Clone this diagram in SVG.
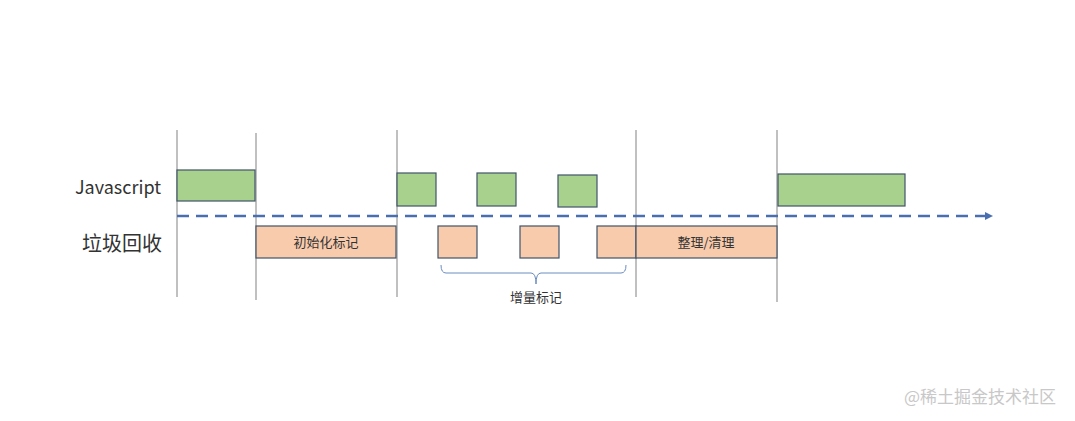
<svg xmlns="http://www.w3.org/2000/svg" width="1075" height="421" viewBox="0 0 1075 421">
<style>
.v{stroke:#c0c0c0;stroke-width:2}
.g{fill:#a9d18e;stroke:#41546a;stroke-width:1.2}
.o{fill:#f8cbad;stroke:#41546a;stroke-width:1.2}
text{font-family:"Microsoft YaHei","Noto Sans CJK SC",sans-serif;fill:#333}
</style>
<defs><marker id="ah" markerWidth="8" markerHeight="8" refX="7" refY="4" orient="auto" markerUnits="userSpaceOnUse"><path d="M0,0 L8,4 L0,8 Z" fill="#4a6fb0"/></marker></defs>
<rect width="1075" height="421" fill="#fff"/>
<g id="grid">
<line class="v" x1="177" y1="130" x2="177" y2="297"/>
<line class="v" x1="256" y1="133" x2="256" y2="300"/>
<line class="v" x1="397" y1="130" x2="397" y2="297"/>
<line class="v" x1="636" y1="130" x2="636" y2="297"/>
<line class="v" x1="777" y1="130" x2="777" y2="302"/>
</g>
<g id="connectors">
<line x1="177" y1="216" x2="992" y2="216" stroke="#4a6fb0" stroke-width="2.5" stroke-dasharray="12,7" marker-end="url(#ah)"/>
<path d="M441,265 Q441,273 446,273 L531,273 Q536,273 536,284 Q536,273 541,273 L621,273 Q626,273 626,265" fill="none" stroke="#6b8cc0" stroke-width="1"/>
</g>
<g id="labels">
<text x="118" y="194" font-size="18" text-anchor="middle">Javascript</text>
<text x="122" y="251" font-size="20" text-anchor="middle">垃圾回收</text>
</g>
<g id="js">
<rect class="g" x="177" y="170" width="78" height="31"/>
<rect class="g" x="397" y="173" width="39" height="33"/>
<rect class="g" x="477" y="173" width="39" height="33"/>
<rect class="g" x="558" y="175" width="39" height="32"/>
<rect class="g" x="778" y="174" width="127" height="32"/>
</g>
<g id="gc">
<rect class="o" x="256" y="226" width="140" height="32"/>
<text x="326" y="247" font-size="13" text-anchor="middle">初始化标记</text>
<rect class="o" x="438" y="226" width="39" height="32"/>
<rect class="o" x="520" y="226" width="39" height="32"/>
<rect class="o" x="597" y="226" width="39" height="32"/>
<rect class="o" x="636" y="226" width="141" height="32"/>
<text x="706" y="247" font-size="13" text-anchor="middle">整理/清理</text>
</g>
<text x="536" y="302" font-size="13" text-anchor="middle">增量标记</text>
<text x="980" y="403" font-size="17" text-anchor="middle" style="fill:#c8c8c8">@稀土掘金技术社区</text>
</svg>
